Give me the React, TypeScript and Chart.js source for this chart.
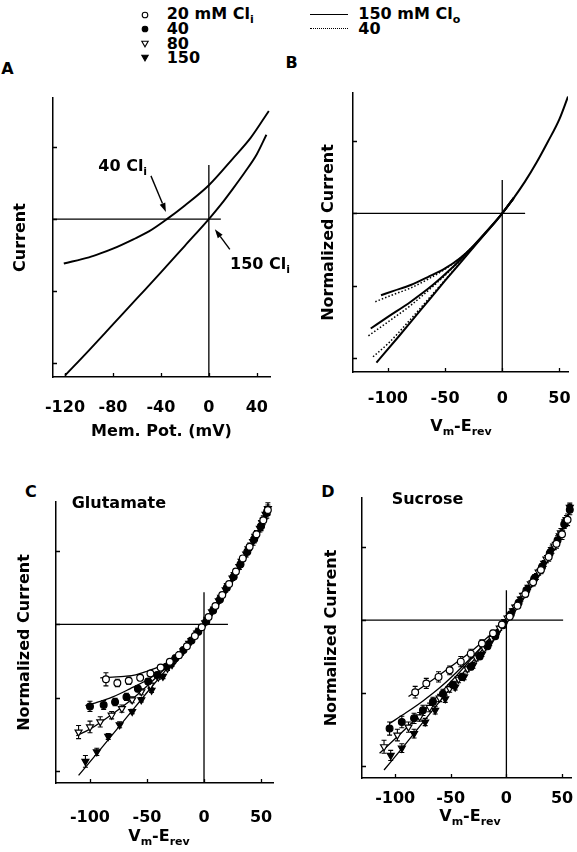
import React, { useEffect, useRef } from 'react';
import { Chart, registerables } from 'chart.js';

Chart.register(...registerables);

const FONT = "'DejaVu Sans', sans-serif";

// ---------- shared ticks ----------
const A_X_TICKS = [-120, -80, -40, 0, 40];
const BCD_X_TICKS = [-100, -50, 0, 50];
const Y_TICKS = [-2, -1, 0, 1];

// ---------- Panel A ----------
const A_150_X = [-120, -100, -80, -60, -40, -20, 0, 10, 20, 30, 40, 48];
const A_150_Y = [-2.17, -1.82, -1.46, -1.1, -0.74, -0.37, 0, 0.2, 0.42, 0.65, 0.9, 1.17];
const A_40_X = [-121, -100, -91, -80, -63, -50, -35, -20, 0, 20, 35, 50];
const A_40_Y = [-0.615, -0.53, -0.48, -0.41, -0.28, -0.17, 0, 0.19, 0.47, 0.84, 1.13, 1.5];
const A_ZERO_H_X = [-130, 10];
const A_ZERO_V_Y = [0.75, -2.19];

// ---------- Panel B ----------
const B_40_X = [-106, -95, -80, -65, -50, -37, -25, -12, 0, 10];
const B_40_Y = [-1.13, -1.07, -0.99, -0.88, -0.76, -0.62, -0.45, -0.23, 0, 0.21];
const B_80_X = [-115, -100, -80, -60, -45, -30, -15, 0, 10];
const B_80_Y = [-1.59, -1.43, -1.22, -0.98, -0.77, -0.53, -0.27, 0, 0.21];
const B_150_X = [-110, -90, -70, -50, -30, -15, 0, 10];
const B_150_Y = [-2.06, -1.69, -1.31, -0.93, -0.56, -0.28, 0, 0.21];
const B_POS_X = [0, 10, 20, 30, 40, 50, 57.5];
const B_POS_Y = [0, 0.21, 0.44, 0.7, 0.99, 1.3, 1.61];
const B_40D_X = [-111, -95, -80, -65, -50, -37, -25];
const B_40D_Y = [-1.22, -1.12, -1.03, -0.91, -0.77, -0.62, -0.45];
const B_80D_X = [-117, -100, -80, -60, -45, -30];
const B_80D_Y = [-1.69, -1.5, -1.27, -1.0, -0.78, -0.53];
const B_150D_X = [-113, -100, -80, -60, -40, -25];
const B_150D_Y = [-1.98, -1.8, -1.46, -1.1, -0.74, -0.46];
const B_ZERO_H_X = [-130.5, 20];
const B_ZERO_V_Y = [0.46, -2.19];

// ---------- Panel C (Glutamate) ----------
const C_FIT20_X = [-91, -80, -70, -60, -50, -40, -30, -20, -10, 0, 10];
const C_FIT20_Y = [-0.73, -0.72, -0.71, -0.69, -0.64, -0.58, -0.5, -0.38, -0.2, 0, 0.25];
const C_FIT40_X = [-104, -95, -80, -65, -50, -37, -25, -12, 0, 10];
const C_FIT40_Y = [-1.11, -1.07, -0.99, -0.88, -0.76, -0.62, -0.45, -0.23, 0, 0.25];
const C_FIT80_X = [-112, -100, -80, -60, -45, -30, -15, 0, 10];
const C_FIT80_Y = [-1.52, -1.43, -1.22, -0.98, -0.77, -0.53, -0.27, 0, 0.25];
const C_FIT150_X = [-110, -90, -70, -50, -30, -15, 0, 10];
const C_FIT150_Y = [-2.06, -1.69, -1.31, -0.93, -0.56, -0.28, 0, 0.25];
const C_POS_X = [0, 10, 20, 30, 40, 50, 56.5];
const C_POS_Y = [0, 0.25, 0.51, 0.78, 1.06, 1.37, 1.65];

const C20_X = [-86, -76, -66, -56, -47, -38, -30, -22, -15, -8, -2, 4, 10, 16, 22, 28, 34, 40, 46, 52, 56];
const C20_Y = [-0.75, -0.8, -0.77, -0.73, -0.67, -0.59, -0.51, -0.42, -0.3, -0.16, -0.04, 0.1, 0.25, 0.4, 0.55, 0.72, 0.9, 1.06, 1.23, 1.42, 1.56];
const C20_E = [0.09, 0.05, 0.05, 0.04, 0.04, 0.03, 0.03, 0.03, 0.02, 0.02, 0.02, 0.02, 0.03, 0.03, 0.03, 0.04, 0.04, 0.05, 0.05, 0.06, 0.07];
const C40_X = [-100, -88, -78, -68, -58, -49, -41, -33, -25, -18, -11, -5, 2, 8, 14, 20, 26, 32, 38, 44, 50, 55];
const C40_Y = [-1.12, -1.1, -1.06, -0.99, -0.88, -0.78, -0.69, -0.58, -0.46, -0.35, -0.22, -0.1, 0.04, 0.19, 0.34, 0.5, 0.65, 0.82, 0.99, 1.16, 1.34, 1.52];
const C40_E = [0.07, 0.06, 0.05, 0.05, 0.04, 0.04, 0.03, 0.03, 0.03, 0.02, 0.02, 0.02, 0.02, 0.02, 0.03, 0.03, 0.03, 0.04, 0.04, 0.05, 0.06, 0.07];
const C80_X = [-110, -100, -91, -81, -72, -63, -55, -47, -40, -32, -25, -18, -11, -4, 3, 9, 15, 21, 27, 33, 39, 45, 51, 56];
const C80_Y = [-1.47, -1.4, -1.33, -1.24, -1.15, -1.03, -0.92, -0.83, -0.72, -0.6, -0.48, -0.36, -0.22, -0.08, 0.07, 0.21, 0.37, 0.53, 0.68, 0.86, 1.03, 1.2, 1.39, 1.58];
const C80_E = [0.09, 0.08, 0.07, 0.05, 0.05, 0.04, 0.04, 0.03, 0.03, 0.03, 0.02, 0.02, 0.02, 0.02, 0.02, 0.03, 0.03, 0.03, 0.04, 0.04, 0.05, 0.05, 0.06, 0.08];
const C150_X = [-104, -94, -84, -74, -63, -55, -46, -36, -28, -20, -13, -6, 1, 7, 13, 19, 25, 31, 37, 43, 49, 54];
const C150_Y = [-1.87, -1.74, -1.53, -1.37, -1.19, -1.03, -0.9, -0.71, -0.55, -0.4, -0.26, -0.12, 0.02, 0.17, 0.32, 0.47, 0.63, 0.79, 0.96, 1.13, 1.31, 1.5];
const C150_E = [0.08, 0.05, 0.04, 0.04, 0.03, 0.03, 0.03, 0.03, 0.02, 0.02, 0.02, 0.02, 0.02, 0.02, 0.03, 0.03, 0.03, 0.04, 0.04, 0.05, 0.05, 0.06];
const C_ZERO_H_X = [-129.8, 21];
const C_ZERO_V_Y = [0.44, -2.165];

// ---------- Panel D (Sucrose) ----------
const D_FIT20_X = [-88, -70, -50, -30, -15, 0, 10];
const D_FIT20_Y = [-1.05, -0.86, -0.64, -0.41, -0.21, 0, 0.22];
const D_FIT40_X = [-105, -90, -75, -60, -45, -30, -15, 0, 10];
const D_FIT40_Y = [-1.42, -1.27, -1.11, -0.93, -0.72, -0.49, -0.25, 0, 0.22];
const D_FIT80_X = [-114, -100, -85, -70, -55, -40, -25, -10, 0, 10];
const D_FIT80_Y = [-1.83, -1.63, -1.41, -1.18, -0.93, -0.68, -0.42, -0.17, 0, 0.22];
const D_FIT150_X = [-110, -90, -70, -50, -30, -15, 0, 10];
const D_FIT150_Y = [-2.06, -1.69, -1.31, -0.93, -0.56, -0.28, 0, 0.22];
const D_POS_X = [0, 10, 20, 30, 40, 50, 55, 58.5];
const D_POS_Y = [0, 0.22, 0.45, 0.69, 0.95, 1.24, 1.42, 1.6];

const D20_X = [-82, -72, -61, -51, -41, -32, -22, -12, -4, 3, 10, 17, 24, 31, 38, 45, 50, 55];
const D20_Y = [-0.99, -0.87, -0.78, -0.69, -0.57, -0.46, -0.32, -0.18, -0.06, 0.05, 0.2, 0.36, 0.52, 0.69, 0.87, 1.05, 1.18, 1.38];
const D20_E = [0.08, 0.07, 0.07, 0.06, 0.07, 0.06, 0.05, 0.04, 0.03, 0.03, 0.03, 0.04, 0.05, 0.05, 0.06, 0.06, 0.07, 0.08];
const D40_X = [-105, -94, -83, -75, -66, -57, -48, -40, -32, -24, -17, -10, -3, 4, 11, 18, 25, 32, 39, 46, 52, 57];
const D40_Y = [-1.49, -1.4, -1.35, -1.24, -1.12, -1.01, -0.89, -0.78, -0.64, -0.5, -0.36, -0.22, -0.07, 0.08, 0.24, 0.41, 0.57, 0.73, 0.92, 1.1, 1.32, 1.52];
const D40_E = [0.09, 0.08, 0.07, 0.07, 0.06, 0.06, 0.05, 0.05, 0.04, 0.04, 0.03, 0.03, 0.03, 0.03, 0.03, 0.04, 0.04, 0.05, 0.05, 0.06, 0.06, 0.07];
const D80_X = [-110, -98, -88, -78, -69, -60, -51, -43, -35, -27, -20, -13, -6, 1, 8, 15, 22, 29, 36, 43, 49, 54];
const D80_Y = [-1.74, -1.58, -1.47, -1.33, -1.2, -1.07, -0.94, -0.81, -0.67, -0.52, -0.39, -0.25, -0.11, 0.03, 0.18, 0.34, 0.5, 0.66, 0.84, 1.02, 1.2, 1.38];
const D80_E = [0.09, 0.08, 0.07, 0.06, 0.06, 0.05, 0.05, 0.05, 0.04, 0.04, 0.03, 0.03, 0.03, 0.03, 0.03, 0.03, 0.04, 0.04, 0.05, 0.05, 0.06, 0.06];
const D150_X = [-104, -94, -83, -73, -64, -55, -46, -38, -30, -22, -15, -8, -1, 6, 13, 20, 27, 34, 41, 48, 53, 57];
const D150_Y = [-1.86, -1.76, -1.56, -1.4, -1.24, -1.08, -0.92, -0.78, -0.62, -0.47, -0.32, -0.17, -0.02, 0.13, 0.29, 0.45, 0.6, 0.78, 0.97, 1.16, 1.35, 1.55];
const D150_E = [0.07, 0.06, 0.06, 0.05, 0.05, 0.05, 0.04, 0.04, 0.04, 0.03, 0.03, 0.03, 0.03, 0.03, 0.03, 0.03, 0.04, 0.04, 0.05, 0.05, 0.06, 0.06];
const D_ZERO_H_X = [-129.8, 51];
const D_ZERO_V_Y = [0.41, -2.17];

// ---------- arrows in panel A (data coords) ----------
const A_ARROWS = [
  { from: [-48.3, 0.6], to: [-35.8, 0.1] },
  { from: [17.5, -0.42], to: [5, -0.14] },
];

// ---------- helpers ----------
const toPts = (xs: number[], ys: number[]) => xs.map((x, i) => ({ x, y: ys[i] }));

function curve(xs: number[], ys: number[], width = 1.3, dash: number[] = []) {
  return {
    data: toPts(xs, ys),
    showLine: true,
    pointRadius: 0,
    pointHoverRadius: 0,
    borderColor: '#000',
    backgroundColor: '#000',
    borderWidth: width,
    borderDash: dash,
    cubicInterpolationMode: 'monotone',
    fill: false,
    order: 1,
  };
}

function zeroLine(xs: number[], ys: number[]) {
  return {
    data: toPts(xs, ys),
    showLine: true,
    pointRadius: 0,
    pointHoverRadius: 0,
    borderColor: '#000',
    borderWidth: 1.3,
    tension: 0,
    fill: false,
    order: 2,
  };
}

type Kind = 'c20' | 'c40' | 't80' | 't150';
const MARK: Record<Kind, any> = {
  c20: { pointStyle: 'circle', pointRadius: 3.4, pointBackgroundColor: '#fff', pointRotation: 0 },
  c40: { pointStyle: 'circle', pointRadius: 3.4, pointBackgroundColor: '#000', pointRotation: 0 },
  t80: { pointStyle: 'triangle', pointRadius: 4, pointBackgroundColor: '#fff', pointRotation: 180 },
  t150: { pointStyle: 'triangle', pointRadius: 4, pointBackgroundColor: '#000', pointRotation: 180 },
};

function marks(xs: number[], ys: number[], errs: number[], kind: Kind) {
  return {
    data: toPts(xs, ys),
    errors: errs,
    showLine: false,
    pointBorderColor: '#000',
    pointBorderWidth: 1.2,
    pointHoverRadius: 0,
    borderColor: '#000',
    clip: false,
    order: 0,
    ...MARK[kind],
  };
}

const insideTicks = {
  id: 'insideTicks',
  afterDatasetsDraw(chart: any) {
    const { ctx, chartArea } = chart;
    const x = chart.scales.x;
    const y = chart.scales.y;
    ctx.save();
    ctx.strokeStyle = '#000';
    ctx.lineWidth = 1.3;
    ctx.beginPath();
    x.ticks.forEach((t: any) => {
      const px = Math.round(x.getPixelForValue(t.value)) + 0.5;
      ctx.moveTo(px, chartArea.bottom);
      ctx.lineTo(px, chartArea.bottom - 4);
    });
    y.ticks.forEach((t: any) => {
      const py = Math.round(y.getPixelForValue(t.value)) + 0.5;
      ctx.moveTo(chartArea.left, py);
      ctx.lineTo(chartArea.left + 4, py);
    });
    ctx.stroke();
    ctx.restore();
  },
};

const errorBars = {
  id: 'errorBars',
  beforeDatasetsDraw(chart: any) {
    const { ctx } = chart;
    const x = chart.scales.x;
    const y = chart.scales.y;
    ctx.save();
    ctx.strokeStyle = '#000';
    ctx.lineWidth = 1.1;
    chart.data.datasets.forEach((ds: any) => {
      if (!ds.errors) return;
      ds.data.forEach((p: any, i: number) => {
        const e = ds.errors[i];
        const px = x.getPixelForValue(p.x);
        const y1 = y.getPixelForValue(p.y + e);
        const y2 = y.getPixelForValue(p.y - e);
        ctx.beginPath();
        ctx.moveTo(px, y1);
        ctx.lineTo(px, y2);
        ctx.moveTo(px - 2.5, y1);
        ctx.lineTo(px + 2.5, y1);
        ctx.moveTo(px - 2.5, y2);
        ctx.lineTo(px + 2.5, y2);
        ctx.stroke();
      });
    });
    ctx.restore();
  },
};

function arrowPlugin(items: { from: number[]; to: number[] }[]) {
  return {
    id: 'arrows',
    afterDatasetsDraw(chart: any) {
      const { ctx } = chart;
      const x = chart.scales.x;
      const y = chart.scales.y;
      ctx.save();
      ctx.strokeStyle = '#000';
      ctx.fillStyle = '#000';
      ctx.lineWidth = 1.4;
      items.forEach((a) => {
        const x1 = x.getPixelForValue(a.from[0]);
        const y1 = y.getPixelForValue(a.from[1]);
        const x2 = x.getPixelForValue(a.to[0]);
        const y2 = y.getPixelForValue(a.to[1]);
        const ang = Math.atan2(y2 - y1, x2 - x1);
        const L = 9;
        const W = 3;
        const bx = x2 - L * Math.cos(ang);
        const by = y2 - L * Math.sin(ang);
        ctx.beginPath();
        ctx.moveTo(x1, y1);
        ctx.lineTo(bx, by);
        ctx.stroke();
        ctx.beginPath();
        ctx.moveTo(x2, y2);
        ctx.lineTo(bx + W * Math.sin(ang), by - W * Math.cos(ang));
        ctx.lineTo(bx - W * Math.sin(ang), by + W * Math.cos(ang));
        ctx.closePath();
        ctx.fill();
      });
      ctx.restore();
    },
  };
}

type PanelCfg = {
  left: number; top: number; w: number; h: number;
  padTop: number; padRight: number; yWidth: number; xHeight: number;
  xMin: number; xMax: number; yMin: number; yMax: number;
  xTicks: number[]; tickPad: number;
  xTitle?: string; xTitlePad?: number;
  yTitle: string; yTitlePad: number;
  datasets: any[];
  arrows?: { from: number[]; to: number[] }[];
};

const tickFont = { family: FONT, size: 16, weight: 'bold' as const };

function Panel({ cfg }: { cfg: PanelCfg }) {
  const ref = useRef<HTMLCanvasElement | null>(null);
  useEffect(() => {
    if (!ref.current) return;
    const plugins: any[] = [errorBars, insideTicks];
    if (cfg.arrows) plugins.push(arrowPlugin(cfg.arrows));
    const chart = new Chart(ref.current, {
      type: 'scatter',
      data: { datasets: cfg.datasets as any },
      plugins,
      options: {
        animation: false,
        responsive: false,
        devicePixelRatio: 1,
        events: [],
        layout: { padding: { top: cfg.padTop, right: cfg.padRight, left: 0, bottom: 0 } },
        plugins: { legend: { display: false }, tooltip: { enabled: false } },
        scales: {
          x: {
            type: 'linear',
            position: 'bottom',
            min: cfg.xMin,
            max: cfg.xMax,
            afterBuildTicks: (s: any) => {
              s.ticks = cfg.xTicks.map((v) => ({ value: v }));
            },
            afterFit: (s: any) => {
              s.height = cfg.xHeight;
              s.paddingLeft = 0;
              s.paddingRight = 0;
            },
            grid: { display: false },
            border: { display: true, color: '#000', width: 1.5 },
            ticks: {
              color: '#000',
              padding: cfg.tickPad,
              font: tickFont,
              maxRotation: 0,
              autoSkip: false,
              callback: (v: any) => String(v),
            },
            title: cfg.xTitle
              ? {
                  display: true,
                  text: cfg.xTitle,
                  color: '#000',
                  font: tickFont,
                  padding: { top: 0, bottom: cfg.xTitlePad ?? 0 },
                }
              : { display: false },
          },
          y: {
            type: 'linear',
            position: 'left',
            min: cfg.yMin,
            max: cfg.yMax,
            afterBuildTicks: (s: any) => {
              s.ticks = Y_TICKS.map((v) => ({ value: v }));
            },
            afterFit: (s: any) => {
              s.width = cfg.yWidth;
              s.paddingTop = 0;
              s.paddingBottom = 0;
            },
            grid: { display: false },
            border: { display: true, color: '#000', width: 1.5 },
            ticks: { display: false },
            title: {
              display: true,
              text: cfg.yTitle,
              color: '#000',
              font: tickFont,
              padding: { top: cfg.yTitlePad, bottom: 0 },
            },
          },
        },
      } as any,
    });
    return () => chart.destroy();
  }, [cfg]);
  return (
    <canvas
      ref={ref}
      width={cfg.w}
      height={cfg.h}
      style={{ position: 'absolute', left: cfg.left, top: cfg.top, width: cfg.w, height: cfg.h }}
    />
  );
}

const PANEL_A: PanelCfg = {
  left: 0, top: 80, w: 290, h: 370,
  padTop: 18, padRight: 20, yWidth: 53, xHeight: 73,
  xMin: -130, xMax: 51, yMin: -2.19, yMax: 1.68,
  xTicks: A_X_TICKS, tickPad: 13.5,
  xTitle: 'Mem. Pot. (mV)', xTitlePad: 8.4,
  yTitle: 'Current', yTitlePad: 11.4,
  arrows: A_ARROWS,
  datasets: [
    zeroLine(A_ZERO_H_X, [0, 0]),
    zeroLine([0, 0], A_ZERO_V_Y),
    curve(A_150_X, A_150_Y, 1.9),
    curve(A_40_X, A_40_Y, 1.9),
  ],
};

const PANEL_B: PanelCfg = {
  left: 290, top: 80, w: 287, h: 370,
  padTop: 13, padRight: 9, yWidth: 63, xHeight: 78,
  xMin: -130.5, xMax: 57.5, yMin: -2.19, yMax: 1.66,
  xTicks: BCD_X_TICKS, tickPad: 9.7,
  yTitle: 'Normalized Current', yTitlePad: 29.7,
  datasets: [
    zeroLine(B_ZERO_H_X, [0, 0]),
    zeroLine([0, 0], B_ZERO_V_Y),
    curve(B_POS_X, B_POS_Y, 2),
    curve(B_40_X, B_40_Y, 2),
    curve(B_80_X, B_80_Y, 2),
    curve(B_150_X, B_150_Y, 2),
    curve(B_40D_X, B_40D_Y, 1.5, [1.5, 2]),
    curve(B_80D_X, B_80D_Y, 1.5, [1.5, 2]),
    curve(B_150D_X, B_150D_Y, 1.5, [1.5, 2]),
  ],
};

const PANEL_C: PanelCfg = {
  left: 0, top: 450, w: 290, h: 402,
  padTop: 52, padRight: 17, yWidth: 56, xHeight: 69,
  xMin: -129.8, xMax: 60.5, yMin: -2.165, yMax: 1.67,
  xTicks: BCD_X_TICKS, tickPad: 17,
  yTitle: 'Normalized Current', yTitlePad: 15.6,
  datasets: [
    marks(C20_X, C20_Y, C20_E, 'c20'),
    marks(C40_X, C40_Y, C40_E, 'c40'),
    marks(C80_X, C80_Y, C80_E, 't80'),
    marks(C150_X, C150_Y, C150_E, 't150'),
    zeroLine(C_ZERO_H_X, [0, 0]),
    zeroLine([0, 0], C_ZERO_V_Y),
    curve(C_POS_X, C_POS_Y, 1.3),
    curve(C_FIT20_X, C_FIT20_Y, 1.3),
    curve(C_FIT40_X, C_FIT40_Y, 1.3),
    curve(C_FIT80_X, C_FIT80_Y, 1.3),
    curve(C_FIT150_X, C_FIT150_Y, 1.3),
  ],
};

const PANEL_D: PanelCfg = {
  left: 290, top: 450, w: 287, h: 402,
  padTop: 48, padRight: 0, yWidth: 72, xHeight: 74,
  xMin: -129.8, xMax: 58.8, yMin: -2.17, yMax: 1.68,
  xTicks: BCD_X_TICKS, tickPad: 3.4,
  yTitle: 'Normalized Current', yTitlePad: 32.2,
  datasets: [
    marks(D20_X, D20_Y, D20_E, 'c20'),
    marks(D40_X, D40_Y, D40_E, 'c40'),
    marks(D80_X, D80_Y, D80_E, 't80'),
    marks(D150_X, D150_Y, D150_E, 't150'),
    zeroLine(D_ZERO_H_X, [0, 0]),
    zeroLine([0, 0], D_ZERO_V_Y),
    curve(D_POS_X, D_POS_Y, 1.3),
    curve(D_FIT20_X, D_FIT20_Y, 1.3),
    curve(D_FIT40_X, D_FIT40_Y, 1.3),
    curve(D_FIT80_X, D_FIT80_Y, 1.3),
    curve(D_FIT150_X, D_FIT150_Y, 1.3),
  ],
};

// ---------- HTML text ----------
function Txt({ x, y, center = false, children }: { x: number; y: number; center?: boolean; children: React.ReactNode }) {
  return (
    <div
      style={{
        position: 'absolute',
        left: x,
        top: y - 8,
        transform: center ? 'translateX(-50%)' : undefined,
        fontFamily: FONT,
        fontWeight: 'bold',
        fontSize: 16,
        lineHeight: '16px',
        whiteSpace: 'nowrap',
        color: '#000',
      }}
    >
      {children}
    </div>
  );
}

const Sub = ({ children }: { children: React.ReactNode }) => (
  <span style={{ fontSize: 11, position: 'relative', top: 4 }}>{children}</span>
);

function Marker({ x, y, kind }: { x: number; y: number; kind: Kind }) {
  const filled = kind === 'c40' || kind === 't150';
  const tri = kind === 't80' || kind === 't150';
  return (
    <svg width={10} height={10} style={{ position: 'absolute', left: x - 5, top: y - 5 }}>
      {tri ? (
        <polygon points="1.8,2.2 8.2,2.2 5,7.8" fill={filled ? '#000' : '#fff'} stroke="#000" strokeWidth={1.1} />
      ) : (
        <circle cx={5} cy={5} r={2.8} fill={filled ? '#000' : '#fff'} stroke="#000" strokeWidth={1.1} />
      )}
    </svg>
  );
}

const VmErev = () => (
  <>
    V<Sub>m</Sub>-E<Sub>rev</Sub>
  </>
);

export default function App() {
  return (
    <div style={{ position: 'absolute', left: 0, top: 0, width: 577, height: 852, overflow: 'hidden', background: '#fff' }}>
      {/* legend */}
      <Marker x={145} y={15} kind="c20" />
      <Marker x={145} y={29.3} kind="c40" />
      <Marker x={145} y={44} kind="t80" />
      <Marker x={145} y={58.3} kind="t150" />
      <Txt x={166.7} y={14.3}>20 mM Cl<Sub>i</Sub></Txt>
      <Txt x={166.7} y={28.7}>40</Txt>
      <Txt x={166.7} y={44}>80</Txt>
      <Txt x={166.7} y={58.3}>150</Txt>
      <div style={{ position: 'absolute', left: 310, top: 13.5, width: 38, borderTop: '1.5px solid #000' }} />
      <div style={{ position: 'absolute', left: 310, top: 28, width: 38, borderTop: '1.5px dotted #000' }} />
      <Txt x={358.3} y={14.3}>150 mM Cl<Sub>o</Sub></Txt>
      <Txt x={358.3} y={28.7}>40</Txt>

      {/* panel letters */}
      <Txt x={7.5} y={68.7} center>A</Txt>
      <Txt x={291.7} y={63.3} center>B</Txt>
      <Txt x={30.8} y={491.7} center>C</Txt>
      <Txt x={328} y={491.7} center>D</Txt>

      <Panel cfg={PANEL_A} />
      <Panel cfg={PANEL_B} />
      <Panel cfg={PANEL_C} />
      <Panel cfg={PANEL_D} />

      {/* annotations */}
      <Txt x={98.3} y={165.5}>40 Cl<Sub>i</Sub></Txt>
      <Txt x={230} y={263.7}>150 Cl<Sub>i</Sub></Txt>
      <Txt x={71.7} y={502.5}>Glutamate</Txt>
      <Txt x={391.7} y={498.7}>Sucrose</Txt>

      {/* x-axis titles with subscripts */}
      <Txt x={461} y={426} center><VmErev /></Txt>
      <Txt x={159} y={836} center><VmErev /></Txt>
      <Txt x={470} y={816} center><VmErev /></Txt>
    </div>
  );
}
